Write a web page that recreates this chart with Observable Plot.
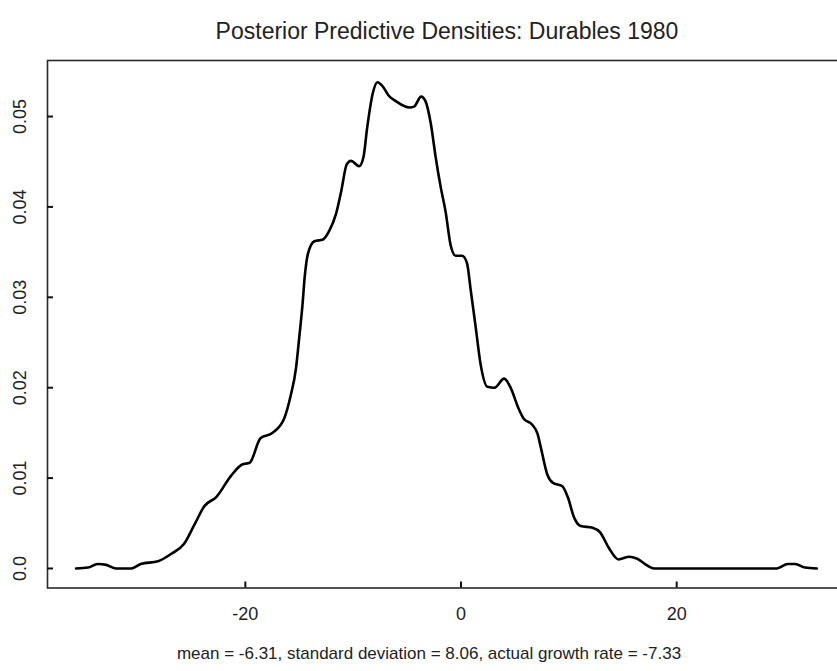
<!DOCTYPE html>
<html>
<head>
<meta charset="utf-8">
<script src="https://cdn.jsdelivr.net/npm/d3@7"></script>
<script src="https://cdn.jsdelivr.net/npm/@observablehq/plot@0.6"></script>
<style>
  html, body { margin: 0; padding: 0; background: white; overflow: hidden; }
  #chart svg { overflow: hidden; }
</style>
</head>
<body>
<div id="chart"></div>
<script>
const titleText = "Posterior Predictive Densities: Durables 1980";
const captionText = "mean = -6.31, standard deviation = 8.06, actual growth rate = -7.33";

const growth = [
  -35.7, -34.6, -33.7, -32.9, -32.0, -30.6, -29.7, -28.1, -26.9, -25.7,
  -24.7, -23.8, -22.7, -21.3, -20.3, -19.6, -18.6, -17.5, -16.4, -15.8,
  -15.3, -15.0, -14.7, -14.5, -14.2, -13.6, -12.8, -12.2, -11.6, -11.1,
  -10.6, -10.2, -9.45, -9.05, -8.7, -8.2, -7.75, -7.3, -6.7, -6.05,
  -4.8, -4.35, -3.7, -3.3, -2.8, -2.35, -1.9, -1.42, -0.95, -0.5,
  0.1, 0.55, 0.9, 1.36, 1.83, 2.45, 3.1, 4.0, 4.6, 5.3,
  5.8, 6.6, 7.1, 7.4, 8.0, 8.5, 9.4, 9.9, 10.5, 11.1,
  12.2, 12.9, 13.7, 14.6, 15.6, 16.3, 17.3, 17.9, 29.3, 30.3,
  31.0, 31.9, 33.0
];
const density = [
  0.0000, 0.0001, 0.0005, 0.0004, 0.0000, 0.0000, 0.0005, 0.0008, 0.0016, 0.0027,
  0.0049, 0.0069, 0.0079, 0.0103, 0.0115, 0.0117, 0.0144, 0.0150, 0.0166, 0.0191,
  0.0222, 0.0256, 0.0292, 0.0322, 0.0348, 0.0362, 0.0364, 0.0374, 0.0392, 0.0418,
  0.0447, 0.0451, 0.0445, 0.0455, 0.0488, 0.0525, 0.0538, 0.0534, 0.0523, 0.0517,
  0.0510, 0.0511, 0.0522, 0.0517, 0.0492, 0.0455, 0.0423, 0.0394, 0.0357, 0.0346,
  0.0346, 0.0338, 0.0308, 0.0267, 0.0225, 0.0201, 0.0200, 0.0210, 0.0200, 0.0178,
  0.0166, 0.0159, 0.0149, 0.0134, 0.0104, 0.0095, 0.0091, 0.0079, 0.0056, 0.0047,
  0.0045, 0.0040, 0.0023, 0.0010, 0.0013, 0.0011, 0.0003, 0.0000, 0.0000, 0.0005,
  0.0005, 0.0001, 0.0000
];

const xTicks = [-20, 0, 20];
const xTickLabels = ["-20", "0", "20"];
const yTicks = [0, 0.01, 0.02, 0.03, 0.04, 0.05];
const yTickLabels = ["0.0", "0.01", "0.02", "0.03", "0.04", "0.05"];

const data = growth.map((g, i) => ({g, d: density[i]}));

const W = 837, H = 671;
const mL = 47, mR = -9, mT = 60, mB = 83.5;
const plotW = W - mL - mR, plotH = H - mT - mB;
const font = "'Liberation Sans', Arial, Helvetica, sans-serif";

const chart = Plot.plot({
  width: W,
  height: H,
  marginLeft: mL,
  marginRight: mR,
  marginTop: mT,
  marginBottom: mB,
  style: {fontFamily: font, background: "white", color: "#111"},
  x: {domain: [-38.35, 35.75], axis: null},
  y: {domain: [-0.00216, 0.0562], axis: null},
  marks: [
    Plot.frame({stroke: "#2a2a2a", strokeWidth: 1.6}),
    Plot.tickX(xTicks, {x: d => d, insetTop: plotH - 6, stroke: "#111", strokeWidth: 2}),
    Plot.tickY(yTicks, {y: d => d, insetRight: plotW - 6, stroke: "#111", strokeWidth: 2}),
    Plot.text(xTicks, {x: d => d, frameAnchor: "bottom", dy: 32, text: (d, i) => xTickLabels[i], fontSize: 18, fill: "#222"}),
    Plot.text(yTicks, {y: d => d, frameAnchor: "left", dx: -27, rotate: -90, textAnchor: "middle", text: (d, i) => yTickLabels[i], fontSize: 18, fill: "#222"}),
    Plot.line(data, {x: "g", y: "d", stroke: "black", strokeWidth: 2.6, curve: "monotone-x"}),
    Plot.text([titleText], {frameAnchor: "top", dy: -38, text: d => d, fontSize: 23, fill: "#222"}),
    Plot.text([captionText], {frameAnchor: "bottom", dx: -18, dy: 70.5, text: d => d, fontSize: 17, fill: "#222"})
  ]
});
document.getElementById("chart").appendChild(chart);
</script>
</body>
</html>
